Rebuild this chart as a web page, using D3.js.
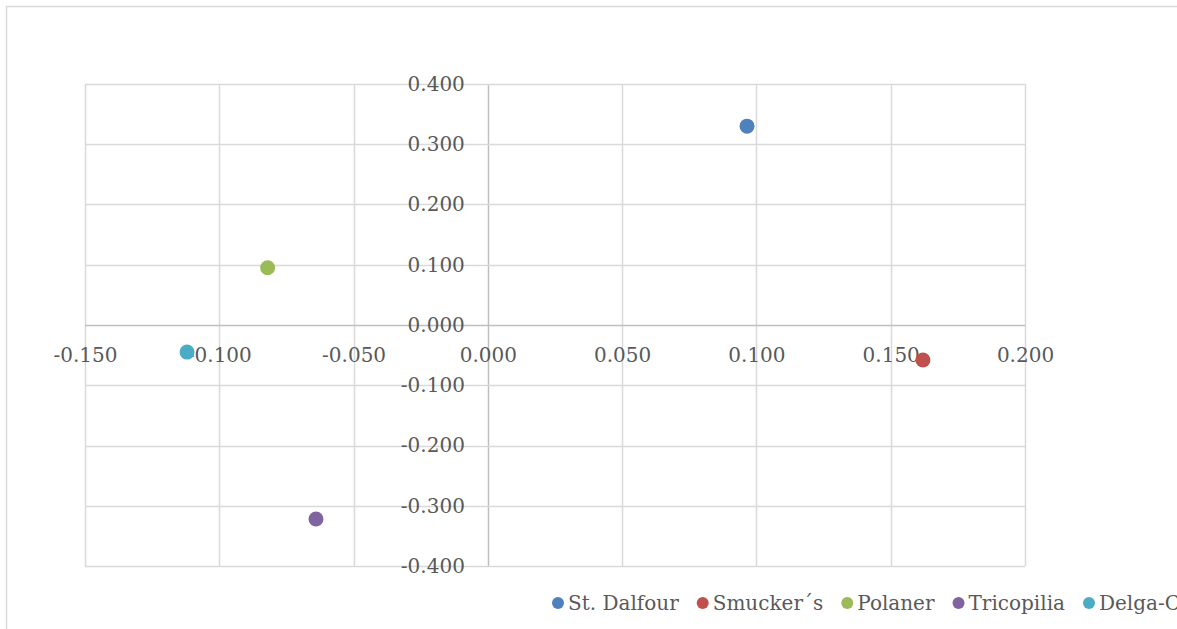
<!DOCTYPE html>
<html>
<head>
<meta charset="utf-8">
<script src="https://cdn.jsdelivr.net/npm/d3@7"></script>
<style>
  html, body { margin: 0; padding: 0; background: #fff; overflow: hidden; }
  svg { display: block; }
  text { font-family: "DejaVu Serif", "Liberation Serif", serif; fill: #595959; }
</style>
</head>
<body>
<script>
// Brand positions on the two components
const brands = ["St. Dalfour", "Smucker\u00b4s", "Polaner", "Tricopilia", "Delga-C"];
const xValues = [0.0965, 0.162, -0.082, -0.064, -0.112];
const yValues = [0.330, -0.058, 0.095, -0.322, -0.045];
const colors = ["#4f81bd", "#c0504d", "#9bbb59", "#8064a2", "#4bacc6"];
const xTicks = [-0.15, -0.1, -0.05, 0, 0.05, 0.1, 0.15, 0.2];
const yTicks = [-0.4, -0.3, -0.2, -0.1, 0, 0.1, 0.2, 0.3, 0.4];

const W = 1177, H = 629;
const FS = 20;
const svg = d3.select("body").append("svg").attr("width", W).attr("height", H);

// chart frame
svg.append("rect")
  .attr("x", 6.5).attr("y", 6.5)
  .attr("width", 1200).attr("height", 700)
  .attr("fill", "#fff").attr("stroke", "#d9d9d9").attr("stroke-width", 1.5);

const x = d3.scaleLinear().domain([-0.15, 0.2]).range([85, 1025]);
const y = d3.scaleLinear().domain([-0.4, 0.4]).range([566, 84]);
// three decimals, plain hyphen for negatives
const fmt = d => d3.format(".3f")(d).replace("\u2212", "-");

// gridlines
const grid = svg.append("g");
grid.selectAll(".gx").data(xTicks).join("line")
  .attr("x1", d => Math.round(x(d)) + 0.5).attr("x2", d => Math.round(x(d)) + 0.5)
  .attr("y1", y(0.4)).attr("y2", y(-0.4))
  .attr("stroke", d => d === 0 ? "#bfbfbf" : "#d9d9d9").attr("stroke-width", 1.5);
grid.selectAll(".gy").data(yTicks).join("line")
  .attr("x1", x(-0.15)).attr("x2", x(0.2))
  .attr("y1", d => Math.round(y(d)) + 0.5).attr("y2", d => Math.round(y(d)) + 0.5)
  .attr("stroke", d => d === 0 ? "#bfbfbf" : "#d9d9d9").attr("stroke-width", 1.5);

// axes crossing at zero
const xAxis = d3.axisBottom(x).tickValues(xTicks).tickFormat(fmt).tickSize(0).tickPadding(0);
const gx = svg.append("g").attr("transform", `translate(0,${y(0)})`).call(xAxis);
gx.select(".domain").remove();
gx.selectAll("text").attr("dy", 37).attr("font-size", FS)
  .style("font-family", "DejaVu Serif, serif").attr("fill", "#595959");

const yAxis = d3.axisLeft(y).tickValues(yTicks).tickFormat(fmt).tickSize(0).tickPadding(23);
const gy = svg.append("g").attr("transform", `translate(${x(0)},0)`).call(yAxis);
gy.select(".domain").remove();
gy.selectAll("text").attr("font-size", FS)
  .style("font-family", "DejaVu Serif, serif").attr("fill", "#595959");

// points
svg.append("g").selectAll("circle").data(brands).join("circle")
  .attr("cx", (d, i) => x(xValues[i]))
  .attr("cy", (d, i) => y(yValues[i]))
  .attr("r", 7.5)
  .attr("fill", (d, i) => colors[i]);

// legend
const legend = svg.append("g").attr("transform", "translate(0,603)");
let cx = 558;
brands.forEach((b, i) => {
  legend.append("circle").attr("cx", cx).attr("cy", 0).attr("r", 6).attr("fill", colors[i]);
  const t = legend.append("text").attr("x", cx + 10).attr("y", 0).attr("dy", "0.35em")
    .attr("font-size", FS).text(b);
  cx = cx + 10 + t.node().getComputedTextLength() + 24;
});
</script>
</body>
</html>
